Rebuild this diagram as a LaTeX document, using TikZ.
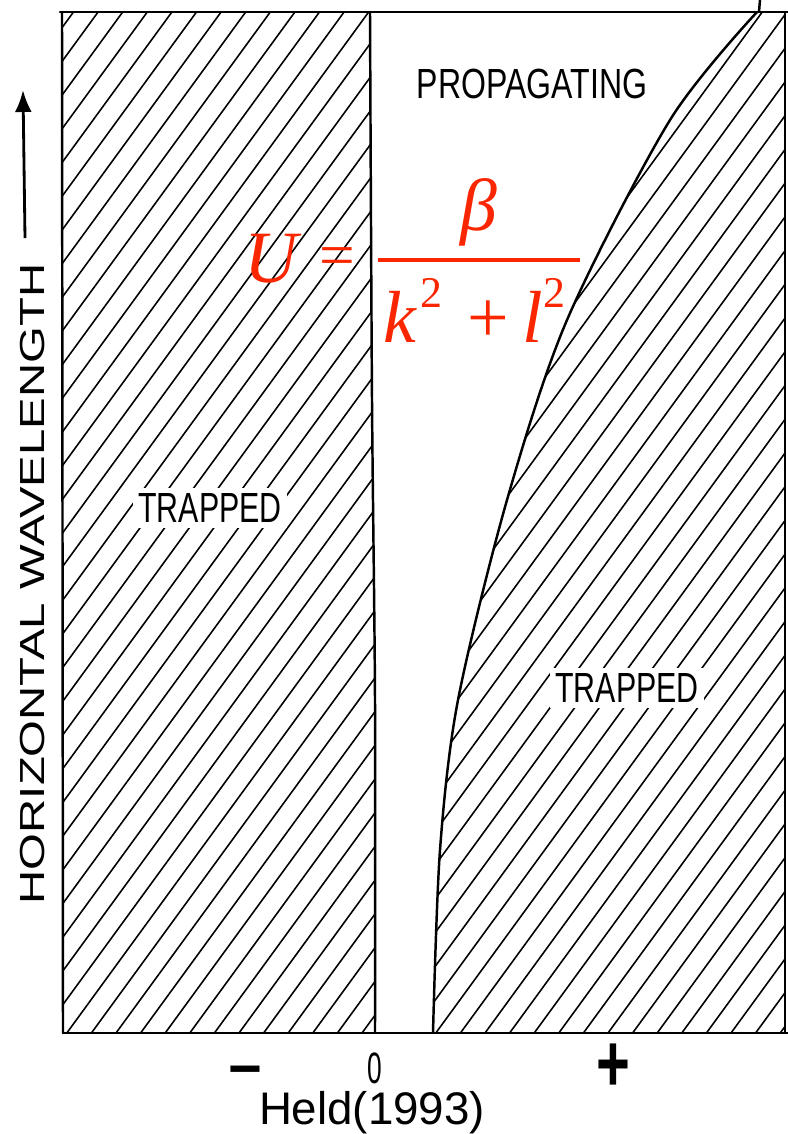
\documentclass[tikz,border=0pt]{standalone}
\usepackage{fontspec}
\setmainfont{Liberation Sans}
\newfontfamily\tnr{Liberation Serif}
\usetikzlibrary{arrows.meta}
\definecolor{eqred}{RGB}{250,38,0}
\begin{document}
\begin{tikzpicture}[x=0.02cm,y=-0.02cm,
  frame/.style={line width=1.4pt, line join=round, line cap=round},
  hatch/.style={line width=0.9pt},
  trapped/.style={fill=white, inner sep=3pt, font=\fontsize{24}{24}\selectfont},
  plain/.style={inner sep=0pt},
  eq/.style={text=eqred, inner sep=0pt, font=\tnr\fontsize{42}{42}\selectfont},
  eqsup/.style={text=eqred, inner sep=0pt, font=\tnr\fontsize{25}{25}\selectfont}]
\useasboundingbox (0,0) rectangle (788,1134);
\def\leftline{(370,12) (372,400) (375,700) (375,1033)}
\def\rightcurve{(757,12) (670,120) (567,320) (507,500) (458,700) (440,850) (433,1033)}
% hatching, left region
\begin{scope}
\clip (62,12) -- plot[smooth] coordinates {\leftline} -- (62,1033) -- cycle;
\foreach \i in {-53,...,10} \draw[hatch] ({578.3+24.6*\i},1040) -- ({578.3+24.6*\i+802.3},-60);
\end{scope}
% hatching, right region
\begin{scope}
\clip plot[smooth] coordinates {\rightcurve} -- (785,1033) -- (785,12) -- cycle;
\foreach \i in {-53,...,10} \draw[hatch] ({578.3+24.6*\i},1040) -- ({578.3+24.6*\i+802.3},-60);
\end{scope}
% frame and boundaries
\draw[frame] (60,12) -- (788,12);
\draw[frame] (62,12) -- (63,1033);
\draw[frame] (63,1033) -- (788,1033);
\draw[frame] (785,12) -- (785,1033);
\draw[frame] plot[smooth] coordinates {\leftline};
\draw[frame] plot[smooth] coordinates {\rightcurve};
\draw[frame] (760,0) -- (759,12);
% region labels
\node[plain, font=\fontsize{24}{24}\selectfont] (prop) at (532,84) {\scalebox{0.76}[1]{PROPAGATING}};
\node[trapped] (trapL) at (210,508) {\scalebox{0.72}[1]{TRAPPED}};
\node[trapped] (trapR) at (627,688) {\scalebox{0.72}[1]{TRAPPED}};
% vertical axis
\node[plain, rotate=90, font=\fontsize{19.8}{19.8}\selectfont] (ylab) at (33,584) {\scalebox{1.36}[1]{HORIZONTAL WAVELENGTH}};
\coordinate (arrbot) at (25,238);
\coordinate (arrtop) at (23,90);
\draw[line width=1.6pt, -{Latex[length=12.5pt,width=9.6pt]}] (arrbot) -- (arrtop);
% horizontal axis
\node[plain, anchor=base, font=\bfseries\fontsize{33}{33}\selectfont] (minus) at (245,1088) {−};
\node[plain, anchor=base, font=\fontsize{25}{25}\selectfont] (zero) at (375,1083) {\scalebox{0.6}[1]{0}};
\node[plain, font=\bfseries\fontsize{33}{33}\selectfont] (plus) at (613,1068) {\scalebox{1}[1.4]{+}};
\node[plain, anchor=base, font=\fontsize{26}{26}\selectfont] (held) at (372,1124) {Held(1993)};
% formula
\node[eq, anchor=base, font=\tnr\itshape\fontsize{42}{42}\selectfont] (U) at (271,282) {U};
\node[eq, font=\tnr\fontsize{36}{36}\selectfont] (eqs) at (337,262) {=};
\node[eq, font=\tnr\itshape\fontsize{42}{42}\selectfont] (beta) at (479,212) {β};
\coordinate (barL) at (378,260);
\coordinate (barR) at (580,260);
\draw[eqred, line width=2pt] (barL) -- (barR);
\node[eq, anchor=base west, font=\tnr\itshape\fontsize{42}{42}\selectfont] (k) at (383,342) {k};
\node[eqsup, anchor=base west] (k2) at (420,307) {2};
\node[eq, anchor=base west] (pl) at (467,342) {+};
\node[eq, anchor=base west, font=\tnr\itshape\fontsize{42}{42}\selectfont] (l) at (522,342) {l};
\node[eqsup, anchor=base west] (l2) at (543,307) {2};
\end{tikzpicture}
\end{document}
